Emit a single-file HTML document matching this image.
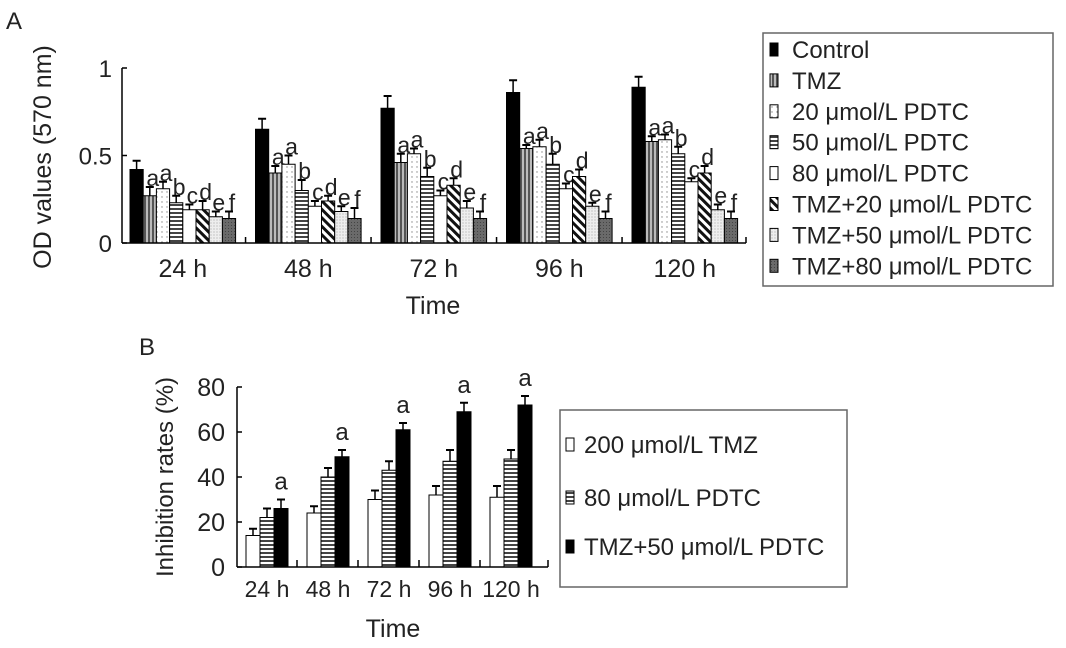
<!DOCTYPE html>
<html><head><meta charset="utf-8"><style>
html,body{margin:0;padding:0;background:#fff;}
svg{display:block;font-family:"Liberation Sans",Arial,sans-serif;}
</style></head><body>
<svg id="fig" width="1066" height="648" viewBox="0 0 1066 648" xmlns="http://www.w3.org/2000/svg">
<defs>
<pattern id="pVert" width="4" height="4" patternUnits="userSpaceOnUse"><rect width="4" height="4" fill="#bbb"/><rect width="2" height="4" fill="#555"/></pattern>
<pattern id="pDot" width="5" height="5" patternUnits="userSpaceOnUse"><rect width="5" height="5" fill="#fff"/><circle cx="2" cy="2" r="0.7" fill="#888"/></pattern>
<pattern id="pHor" width="4" height="4" patternUnits="userSpaceOnUse"><rect width="4" height="4" fill="#fff"/><rect width="4" height="2" fill="#444"/></pattern>
<pattern id="pDiag" width="6" height="6" patternUnits="userSpaceOnUse" patternTransform="rotate(-45)"><rect width="6" height="6" fill="#fff"/><rect width="3" height="6" fill="#111"/></pattern>
<pattern id="pLight" width="3" height="3" patternUnits="userSpaceOnUse"><rect width="3" height="3" fill="#eee"/><circle cx="1" cy="1" r="0.6" fill="#aaa"/></pattern>
<pattern id="pDark" width="3" height="3" patternUnits="userSpaceOnUse"><rect width="3" height="3" fill="#6a6a6a"/><rect width="1" height="1" fill="#444"/></pattern>
</defs>
<g id="chartA"></g>
<g id="chartB"></g>
</svg>
<script>
// ---- Chart A data ----
const catsA = ["24 h","48 h","72 h","96 h","120 h"];
const seriesNamesA = ["Control","TMZ","20 μmol/L PDTC","50 μmol/L PDTC","80 μmol/L PDTC","TMZ+20 μmol/L PDTC","TMZ+50 μmol/L PDTC","TMZ+80 μmol/L PDTC"];
const controlA = [0.42,0.65,0.77,0.86,0.89];
const tmzA     = [0.27,0.40,0.46,0.54,0.58];
const p20A     = [0.31,0.45,0.51,0.55,0.59];
const p50A     = [0.23,0.30,0.38,0.45,0.51];
const p80A     = [0.19,0.21,0.27,0.31,0.35];
const t20A     = [0.19,0.24,0.33,0.38,0.40];
const t50A     = [0.15,0.18,0.20,0.21,0.19];
const t80A     = [0.14,0.14,0.14,0.14,0.14];
const errA = [
 [0.05,0.06,0.07,0.07,0.06],
 [0.05,0.04,0.05,0.02,0.03],
 [0.04,0.05,0.03,0.04,0.03],
 [0.04,0.06,0.05,0.06,0.04],
 [0.03,0.03,0.03,0.03,0.02],
 [0.05,0.03,0.04,0.04,0.04],
 [0.03,0.03,0.04,0.02,0.03],
 [0.04,0.06,0.04,0.04,0.04]];
const lettersA = ["","a","a","b","c","d","e","f"];
const ticksA = [0,0.5,1];
const tickLabelsA = ["0","0.5","1"];
// ---- Chart B data ----
const catsB = ["24 h","48 h","72 h","96 h","120 h"];
const seriesNamesB = ["200 μmol/L TMZ","80 μmol/L PDTC","TMZ+50 μmol/L PDTC"];
const tmzB  = [14,24,30,32,31];
const pdtcB = [22,40,43,47,48];
const comboB= [26,49,61,69,72];
const errB = [[3,3,4,4,5],[4,4,4,5,4],[4,3,3,4,4]];
const ticksB = [0,20,40,60,80];

const NS="http://www.w3.org/2000/svg";
function el(tag,attrs,parent){const e=document.createElementNS(NS,tag);for(const k in attrs)e.setAttribute(k,attrs[k]);parent.appendChild(e);return e;}
function txt(s,x,y,size,parent,anchor){const t=el("text",{x:x,y:y,"font-size":size,"text-anchor":anchor||"middle",fill:"#222"},parent);t.textContent=s;return t;}

const fillsA=["#000","url(#pVert)","url(#pDot)","url(#pHor)","#fff","url(#pDiag)","url(#pLight)","url(#pDark)"];
// ---- Chart A ----
(function(){
 const g=document.getElementById("chartA");
 const x0=122,x1=746,yb=243,yt=68;
 const y=v=>yb-(v-0)/(1-0)*(yb-yt);
 const gx=i=>130+i*125.5; const bw=13.2;
 const series=[controlA,tmzA,p20A,p50A,p80A,t20A,t50A,t80A];
 const lab=txt("A",14,29,24,g);
 
 
 series.forEach((s,si)=>{s.forEach((v,ci)=>{
  const bx=gx(ci)+si*bw, top=y(v);
  const r=el("rect",{x:bx,y:top,width:bw,height:yb-top,fill:fillsA[si],stroke:"#000","stroke-width":1},g);
  
  
  const et=y(v+errA[si][ci]);
  el("line",{x1:bx+bw/2,x2:bx+bw/2,y1:top,y2:et,stroke:"#000","stroke-width":1.5},g);
  el("line",{x1:bx+bw/2-4,x2:bx+bw/2+4,y1:et,y2:et,stroke:"#000","stroke-width":2},g);
  if(lettersA[si]){const t=txt(lettersA[si],bx+bw/2+3,et-1,23,g);
   
   }
 });});
 el("line",{x1:x0,x2:x0,y1:yt,y2:yb,stroke:"#000","stroke-width":1.5},g);
 el("line",{x1:x0,x2:x1,y1:yb,y2:yb,stroke:"#000","stroke-width":1.5},g);
 ticksA.forEach((t,i)=>{el("line",{x1:x0,x2:x0+5,y1:y(t),y2:y(t),stroke:"#000","stroke-width":1.5},g);
  const l=txt(tickLabelsA[i],x0-10,y(t)+9,24,g,"end");
  
  });
 catsA.forEach((c,i)=>{const cx=gx(i)+4*bw;
  const l=txt(c,cx,277,25,g);
  
  
  if(i<4)el("line",{x1:gx(i)+8*bw+(125.5-8*bw)/2,x2:gx(i)+8*bw+(125.5-8*bw)/2,y1:yb,y2:yb-6,stroke:"#000","stroke-width":1.5},g);});
 el("line",{x1:x1,x2:x1,y1:yb,y2:yb-6,stroke:"#000","stroke-width":1.5},g);
 const xt=txt("Time",433,314,25,g);
 
 
 const yl=txt("OD values (570 nm)",0,0,25,g);
 yl.setAttribute("transform","translate(51,157) rotate(-90)");
 
 
 const lg=el("g",{},g);
 
 
 el("rect",{x:763,y:33,width:290,height:253,fill:"#fff",stroke:"#666","stroke-width":1.5},lg);
 seriesNamesA.forEach((n,i)=>{const yy=50+i*30.9;
  el("rect",{x:770,y:yy-7,width:8,height:13,fill:fillsA[i],stroke:"#000","stroke-width":1},lg);
  const t=txt(n,792,yy+8,24,lg,"start");
  
  });
})();
// ---- Chart B ----
(function(){
 const g=document.getElementById("chartB");
 const fills=["#fff","url(#pHor)","#000"];
 const x0=237,x1=548,yb=567,yt=387;
 const y=v=>yb-v/80*(yb-yt);
 const gx=i=>246+i*61; const bw=14;
 const series=[tmzB,pdtcB,comboB];
 const lab=txt("B",147,355,24,g);
 
 
 series.forEach((s,si)=>{s.forEach((v,ci)=>{
  const bx=gx(ci)+si*bw, top=y(v);
  const r=el("rect",{x:bx,y:top,width:bw,height:yb-top,fill:fills[si],stroke:"#000","stroke-width":1},g);
  
  
  const et=y(v+errB[si][ci]);
  el("line",{x1:bx+bw/2,x2:bx+bw/2,y1:top,y2:et,stroke:"#000","stroke-width":1.5},g);
  el("line",{x1:bx+bw/2-4,x2:bx+bw/2+4,y1:et,y2:et,stroke:"#000","stroke-width":2},g);
  if(si===2){const t=txt("a",bx+bw/2,et-10,24,g);
   
   }
 });});
 el("line",{x1:x0,x2:x0,y1:yt,y2:yb,stroke:"#000","stroke-width":1.5},g);
 el("line",{x1:x0,x2:x1,y1:yb,y2:yb,stroke:"#000","stroke-width":1.5},g);
 ticksB.forEach(t=>{el("line",{x1:x0,x2:x0+5,y1:y(t),y2:y(t),stroke:"#000","stroke-width":1.5},g);
  const l=txt(String(t),x0-12,y(t)+9,25,g,"end");
  
  });
 catsB.forEach((c,i)=>{const cx=gx(i)+1.5*bw;
  const l=txt(c,cx,597,23,g);
  
  
  if(i<4)el("line",{x1:gx(i)+3*bw+9,x2:gx(i)+3*bw+9,y1:yb,y2:yb-7,stroke:"#000","stroke-width":1.5},g);});
 el("line",{x1:x1,x2:x1,y1:yb,y2:yb-7,stroke:"#000","stroke-width":1.5},g);
 const xt=txt("Time",393,637,25,g);
 
 
 const yl=txt("Inhibition rates (%)",0,0,24,g);
 yl.setAttribute("transform","translate(173,477) rotate(-90)");
 
 
 const lg=el("g",{},g);
 
 
 el("rect",{x:560,y:410,width:287,height:177,fill:"#fff",stroke:"#666","stroke-width":1.5},lg);
 [445,498,547].forEach((yy,i)=>{
  el("rect",{x:566,y:yy-7,width:8,height:13,fill:fills[i],stroke:"#000","stroke-width":1},lg);
  const t=txt(seriesNamesB[i],584,yy+8,24,lg,"start");
  
  });
})();
</script>
</body></html>
